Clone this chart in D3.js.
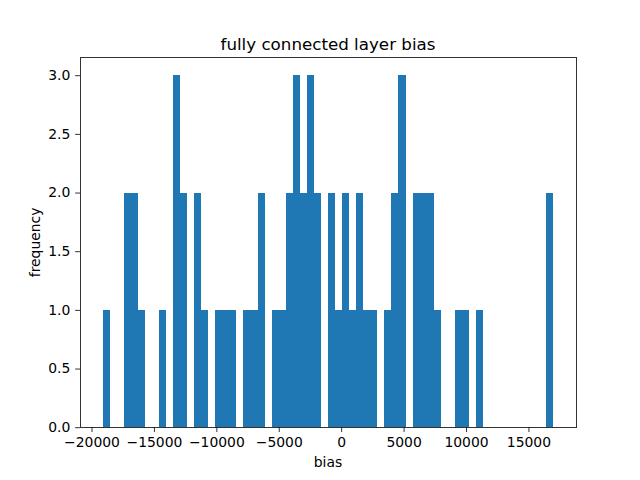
<!DOCTYPE html>
<html>
<head>
<meta charset="utf-8">
<script src="https://cdn.jsdelivr.net/npm/d3@7"></script>
<style>
  body { margin: 0; background: #fff; }
  svg { display: block; font-family: "DejaVu Sans", sans-serif; }
</style>
</head>
<body>
<svg id="chart" width="640" height="480"></svg>
<script>
// Data range of the bias values (histogram spans min..max in 64 equal bins)
const dataMin = -19115;
const dataMax = 17005;
// Counts per bin (64 bins)
const binCounts = [
  1, 0, 0, 2, 2, 1, 0, 0, 1, 0,
  3, 2, 0, 2, 1, 0, 1, 1, 1, 0,
  1, 1, 2, 0, 1, 1, 2, 3, 2, 3,
  2, 0, 2, 1, 2, 1, 2, 1, 1, 0,
  1, 2, 3, 0, 2, 2, 2, 1, 0, 0,
  1, 1, 0, 1, 0, 0, 0, 0, 0, 0,
  0, 0, 0, 2
];
const xTicks = [-20000, -15000, -10000, -5000, 0, 5000, 10000, 15000];
const yTicks = [0.0, 0.5, 1.0, 1.5, 2.0, 2.5, 3.0];
const titleText = "fully connected layer bias";
const xLabel = "bias";
const yLabel = "frequency";

const W = 640, H = 480;
const m = { left: 80, right: 576, top: 57.6, bottom: 427.2 };
const svg = d3.select("#chart");

const nBins = binCounts.length;
const bw = (dataMax - dataMin) / nBins;
const bins = binCounts.map((c, i) => ({ x0: dataMin + i * bw, x1: dataMin + (i + 1) * bw, c }));

const span = dataMax - dataMin;
const x = d3.scaleLinear().domain([dataMin - 0.05 * span, dataMax + 0.05 * span]).range([m.left, m.right]);
const yMax = d3.max(binCounts) * 1.05;
const y = d3.scaleLinear().domain([0, yMax]).range([m.bottom, m.top]);

svg.append("g").selectAll("rect").data(bins.filter(d => d.c > 0)).join("rect")
  .attr("x", d => x(d.x0))
  .attr("width", d => x(d.x1) - x(d.x0))
  .attr("y", d => y(d.c))
  .attr("height", d => y(0) - y(d.c))
  .attr("fill", "#1f77b4")
  .attr("shape-rendering", "crispEdges");

const fmtX = d => d < 0 ? "\u2212" + Math.abs(d) : String(d);
const xAxis = svg.append("g").attr("transform", `translate(0,${m.bottom})`)
  .call(d3.axisBottom(x).tickValues(xTicks).tickFormat(fmtX).tickSize(4.86).tickPadding(4.86).tickSizeOuter(0));
const yAxis = svg.append("g").attr("transform", `translate(${m.left},0)`)
  .call(d3.axisLeft(y).tickValues(yTicks).tickFormat(d3.format(".1f")).tickSize(4.86).tickPadding(4.86).tickSizeOuter(0));

[xAxis, yAxis].forEach(g => {
  g.select(".domain").remove();
  g.selectAll("line").attr("stroke", "#000").attr("stroke-width", 0.8);
  g.selectAll("text").attr("font-size", "13.9px").attr("fill", "#000").attr("font-family", "DejaVu Sans, sans-serif");
});
xAxis.selectAll("text").attr("dy", "0.75em");

// frame
svg.append("rect")
  .attr("x", m.left).attr("y", m.top)
  .attr("width", m.right - m.left).attr("height", m.bottom - m.top)
  .attr("fill", "none").attr("stroke", "#000").attr("stroke-width", 0.8)
  .attr("shape-rendering", "crispEdges");

svg.append("text").attr("x", (m.left + m.right) / 2).attr("y", 49.5)
  .attr("text-anchor", "middle").attr("font-size", "16.7px").text(titleText);
svg.append("text").attr("x", (m.left + m.right) / 2).attr("y", 467)
  .attr("text-anchor", "middle").attr("font-size", "13.9px").text(xLabel);
svg.append("text").attr("transform", `translate(40,${(m.top + m.bottom) / 2}) rotate(-90)`)
  .attr("text-anchor", "middle").attr("font-size", "13.9px").text(yLabel);
</script>
</body>
</html>
